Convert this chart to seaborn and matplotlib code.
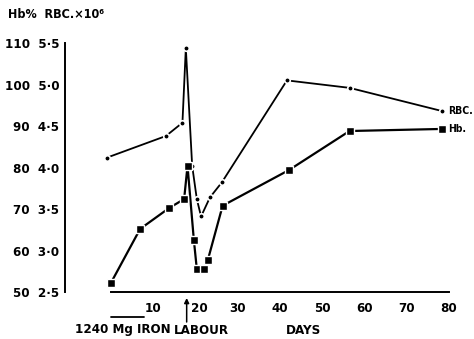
import numpy as np
import pandas as pd
import seaborn as sns
import matplotlib.pyplot as plt
import matplotlib.transforms as mtransforms

sns.set_style("white")
plt.rcParams['font.family'] = ['Liberation Sans Narrow', 'DejaVu Sans']
plt.rcParams['font.stretch'] = 'condensed'
plt.rcParams['font.weight'] = 'bold'
plt.rcParams['text.color'] = 'black'

# ---- data ----
rbc_days = [-0.8, 13.1, 17.0, 17.8, 19.3, 20.4, 21.4, 23.5, 26.3, 41.7, 56.5, 78.4]
rbc_vals = [4.12, 4.38, 4.54, 5.44, 4.02, 3.62, 3.41, 3.64, 3.82, 5.05, 4.96, 4.68]

hb_days = [0.1, 7.0, 13.8, 17.4, 18.2, 19.7, 20.4, 22.1, 23.0, 26.5, 42.2, 56.5, 78.4]
hb_vals = [52.2, 65.2, 70.2, 72.4, 80.4, 62.5, 55.5, 55.5, 57.7, 70.8, 79.4, 88.8, 89.3]

hb_ticks = [50, 60, 70, 80, 90, 100, 110]
rbc_ticks = ['2·5', '3·0', '3·5', '4·0', '4·5', '5·0', '5·5']
day_ticks = [0, 10, 20, 30, 40, 50, 60, 70, 80]
day_labels = ['', '10', '20', '30', '40', '50', '60', '70', '80']

# RBC plotted on the Hb scale (2.5 -> 50, 5.5 -> 110)
rbc = pd.DataFrame({'day': rbc_days, 'val': np.array(rbc_vals) * 20})
hb = pd.DataFrame({'day': hb_days, 'val': hb_vals})

fig = plt.figure(figsize=(4.74, 3.39), dpi=100)
ax = fig.add_axes([65 / 474, 47 / 339, 388.2 / 474, 253.1 / 339])

sns.lineplot(data=rbc, x='day', y='val', ax=ax, color='black', lw=1.3,
             marker='o', markersize=4, markeredgecolor='white',
             markeredgewidth=1.2, sort=False, estimator=None)
sns.lineplot(data=hb, x='day', y='val', ax=ax, color='black', lw=1.6,
             marker='s', markersize=6, markeredgecolor='white',
             markeredgewidth=1.0, sort=False, estimator=None)

ax.set_xlim(-10.76, 81)
ax.set_ylim(50, 111)
ax.set_xlabel('')
ax.set_ylabel('')

sns.despine(ax=ax)
ax.spines['left'].set_bounds(50, 110)
ax.spines['bottom'].set_bounds(0, 80)
for s in ['left', 'bottom']:
    ax.spines[s].set_linewidth(1.4)
    ax.spines[s].set_color('black')

ax.set_yticks(hb_ticks)
ax.set_yticklabels([f'{h}  {r}' for h, r in zip(hb_ticks, rbc_ticks)])
ax.set_xticks(day_ticks)
ax.set_xticklabels(day_labels)
ax.tick_params(axis='both', direction='in', length=4, width=1.3,
               labelsize=9.5, colors='black')
ax.tick_params(axis='y', pad=4)
ax.tick_params(axis='x', pad=7)

# the "20" sits just right of the labour arrow
lbl20 = ax.get_xticklabels()[2]
lbl20.set_transform(lbl20.get_transform() +
                    mtransforms.ScaledTranslation(4 / 100, 0, fig.dpi_scale_trans))

# end labels of the two curves
ax.text(79.9, rbc['val'].iloc[-1], 'RBC.', fontsize=7.5, fontweight='bold',
        va='center', ha='left', clip_on=False)
ax.text(79.9, hb['val'].iloc[-1], 'Hb.', fontsize=7.5, fontweight='bold',
        va='center', ha='left', clip_on=False)

# header
fig.text(8 / 474, 1 - 15 / 339, 'Hb%  RBC.×10⁶', fontsize=9,
         fontweight='bold', va='center', ha='left')

# annotations under the day axis
trans = mtransforms.blended_transform_factory(ax.transData, fig.transFigure)
ax.plot([0, 8], [1 - 317 / 339] * 2, color='black', lw=1.3,
        transform=trans, clip_on=False)
ax.text(2.8, 1 - 330 / 339, '1240 Mg IRON', transform=trans, fontsize=9.5,
        fontweight='bold', ha='center', va='center')
ax.text(21.5, 1 - 330 / 339, 'LABOUR', transform=trans, fontsize=9.5,
        fontweight='bold', ha='center', va='center')
ax.text(45.5, 1 - 330 / 339, 'DAYS', transform=trans, fontsize=9.5,
        fontweight='bold', ha='center', va='center')
ax.annotate('', xy=(18.0, 1 - 298 / 339), xytext=(18.0, 1 - 322 / 339),
            xycoords=trans, textcoords=trans,
            arrowprops=dict(arrowstyle='-|>', color='black', lw=1.1,
                            mutation_scale=7, shrinkA=0, shrinkB=0))

fig.savefig('out.png', dpi=100)
